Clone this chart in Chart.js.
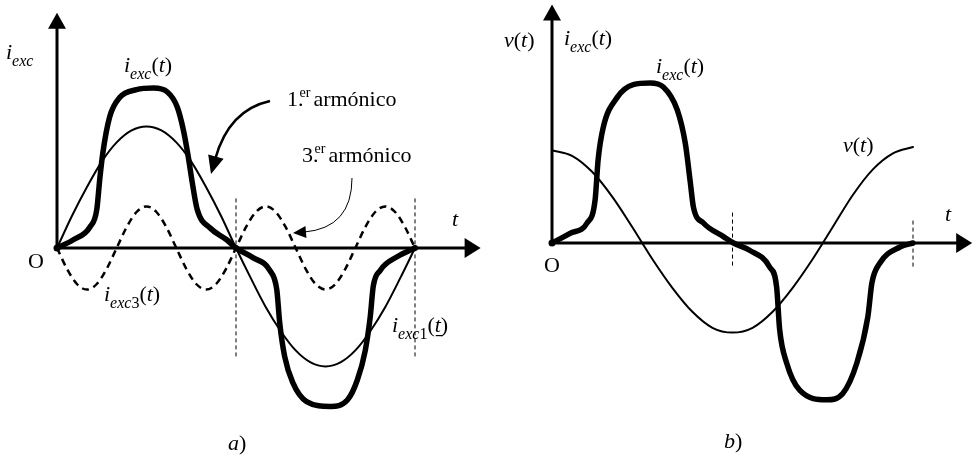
<!DOCTYPE html>
<html>
<head>
<meta charset="utf-8">
<script src="https://cdn.jsdelivr.net/npm/chart.js@4/dist/chart.umd.min.js"></script>
<style>
html,body{margin:0;padding:0;background:#fff;width:976px;height:458px;overflow:hidden;}
canvas{position:absolute;top:0;}
</style>
</head>
<body>
<canvas id="ca" width="490" height="458" style="left:0"></canvas>
<canvas id="cb" width="486" height="458" style="left:490px"></canvas>
<script>
// ---------- DATA (angle t in degrees over one period, amplitude normalised to i_exc peak) ----------
// Panel a)
const tA_exc   = [0,16,33,40,43,46,53,63,80,97,111,121,127,132,136,141,154,171,180,197,214,221,224,229,237,251,275,292,302,310,315,318,325,342,360];
const iA_exc   = [0,0.05,0.13,0.24,0.43,0.59,0.82,0.94,0.99,1.0,0.975,0.88,0.74,0.57,0.41,0.24,0.125,0.05,0,-0.06,-0.14,-0.26,-0.47,-0.68,-0.84,-0.96,-0.99,-0.95,-0.825,-0.64,-0.43,-0.24,-0.14,-0.055,0];
const tA_fund  = [0,15,30,45,60,75,90,105,120,135,150,165,180,195,210,225,240,255,270,285,300,315,330,345,360];
const iA_fund  = [0,0.20,0.38,0.54,0.66,0.735,0.76,0.735,0.66,0.54,0.38,0.20,0,-0.19,-0.37,-0.52,-0.64,-0.715,-0.74,-0.715,-0.64,-0.52,-0.37,-0.19,0];
const tA_third = [0,10,20,30,40,50,60,70,80,90,100,110,120,130,140,150,160,170,180,190,200,210,220,230,240,250,260,270,280,290,300,310,320,330,340,350,360];
const iA_third = [0,-0.13,-0.225,-0.26,-0.225,-0.13,0,0.13,0.225,0.26,0.225,0.13,0,-0.13,-0.225,-0.26,-0.225,-0.13,0,0.13,0.225,0.26,0.225,0.13,0,-0.13,-0.225,-0.26,-0.225,-0.13,0,0.13,0.225,0.26,0.225,0.13,0];
// Panel b)
const tB_exc = [0,18,35,43,46,51,65,81,98,111,125,133,138,141,151,171,181,197,217,224,227,234,247,274,290,304,315,319,327,347,360];
const iB_exc = [0,0.06,0.125,0.27,0.52,0.72,0.91,0.99,1.0,0.975,0.83,0.62,0.375,0.225,0.125,0.04,0,-0.045,-0.15,-0.275,-0.54,-0.75,-0.92,-0.98,-0.94,-0.75,-0.46,-0.25,-0.125,-0.025,0];
const tB_v   = [0,20,40,60,80,100,120,140,160,180,200,220,240,260,280,300,320,340,360];
const vB     = [0.58,0.545,0.445,0.29,0.10,-0.10,-0.28,-0.43,-0.53,-0.56,-0.53,-0.43,-0.28,-0.10,0.10,0.30,0.46,0.56,0.60];
// Half-period / period markers
const markers = [180, 360];

// ---------- helpers ----------
const FAM = '"Liberation Serif","Times New Roman",serif';
function pts(xs, ys){ return xs.map((x,i)=>({x:x, y:ys[i]})); }
function rich(ctx, x, y, parts){
  let cx = x;
  ctx.textAlign='left'; ctx.textBaseline='alphabetic'; ctx.fillStyle='#000';
  for (const [txt, st] of parts){
    let size=22, it=false, dy=0;
    if (st==='i') it=true;
    if (st==='si'){ it=true; size=16; dy=7; }
    if (st==='sr'){ size=16; dy=7; }
    if (st==='sup'){ size=14; dy=-9; }
    ctx.font = (it?'italic ':'') + size + 'px ' + FAM;
    ctx.fillText(txt, cx, y+dy);
    cx += ctx.measureText(txt).width;
  }
  return cx;
}
function head(ctx, tx, ty, fx, fy, len, hw){
  const a = Math.atan2(ty-fy, tx-fx);
  ctx.beginPath();
  ctx.moveTo(tx, ty);
  ctx.lineTo(tx - len*Math.cos(a) + hw*Math.sin(a), ty - len*Math.sin(a) - hw*Math.cos(a));
  ctx.lineTo(tx - len*Math.cos(a) - hw*Math.sin(a), ty - len*Math.sin(a) + hw*Math.cos(a));
  ctx.closePath(); ctx.fill();
}
function curvedArrow(ctx, sx, sy, cx, cy, ex, ey, lw, len, hw){
  const a = Math.atan2(ey-cy, ex-cx);
  const bx = ex - (len-2)*Math.cos(a), by = ey - (len-2)*Math.sin(a);
  ctx.save(); ctx.lineWidth=lw; ctx.strokeStyle='#000'; ctx.fillStyle='#000'; ctx.setLineDash([]);
  ctx.beginPath(); ctx.moveTo(sx,sy); ctx.quadraticCurveTo(cx,cy,bx,by); ctx.stroke();
  head(ctx, ex, ey, cx, cy, len, hw);
  ctx.restore();
}
function axesAndMarks(chart, yTip, xTip, vLines){
  const ctx=chart.ctx, xs=chart.scales.x, ys=chart.scales.y;
  const x0=xs.getPixelForValue(0), y0=ys.getPixelForValue(0);
  ctx.save();
  ctx.strokeStyle='#000'; ctx.fillStyle='#000'; ctx.lineWidth=3; ctx.setLineDash([]);
  const yt=ys.getPixelForValue(yTip), xt=xs.getPixelForValue(xTip);
  ctx.beginPath(); ctx.moveTo(x0, y0); ctx.lineTo(x0, yt+12); ctx.stroke();
  head(ctx, x0, yt, x0, y0, 16, 9);
  ctx.beginPath(); ctx.moveTo(x0, y0); ctx.lineTo(xt-12, y0); ctx.stroke();
  head(ctx, xt, y0, x0, y0, 16, 10);
  ctx.lineWidth=1; ctx.setLineDash([4,3]);
  for (const v of vLines){
    const px=xs.getPixelForValue(v.t);
    ctx.beginPath(); ctx.moveTo(px, ys.getPixelForValue(v.top)); ctx.lineTo(px, ys.getPixelForValue(v.bot)); ctx.stroke();
  }
  ctx.setLineDash([]);
  ctx.beginPath(); ctx.arc(x0, y0, 3.5, 0, Math.PI*2); ctx.fill();
  ctx.restore();
}
function baseOptions(padding){
  return {
    responsive:false, animation:false, devicePixelRatio:1,
    layout:{padding:padding},
    plugins:{legend:{display:false}, tooltip:{enabled:false}},
    elements:{point:{radius:0}, line:{cubicInterpolationMode:'monotone', borderCapStyle:'round', borderJoinStyle:'round'}},
    scales:{
      x:{type:'linear', min:0, max:360, display:false},
      y:{type:'linear', min:-1.0, max:1.5, display:false}
    }
  };
}

// ---------- Panel a ----------
const plugA = {
  id:'pa',
  beforeDatasetsDraw(chart){
    axesAndMarks(chart, 1.47, 426, [{t:markers[0], top:0.31, bot:-0.69},{t:markers[1], top:0.31, bot:-0.69}]);
  },
  afterDraw(chart){
    const ctx=chart.ctx, xs=chart.scales.x, ys=chart.scales.y;
    ctx.save(); ctx.fillStyle='#000';
    for (const t of markers){ ctx.beginPath(); ctx.arc(xs.getPixelForValue(t), ys.getPixelForValue(0), 3, 0, Math.PI*2); ctx.fill(); }
    rich(ctx, 6, 59, [['i','i'],['exc','si']]);
    rich(ctx, 124, 72, [['i','i'],['exc','si'],['(','r'],['t','i'],[')','r']]);
    let e = rich(ctx, 287, 106, [['1.','r']]);
    e = rich(ctx, e-4, 106, [['er','sup']]);
    rich(ctx, e+3, 106, [['armónico','r']]);
    e = rich(ctx, 302, 162, [['3.','r']]);
    e = rich(ctx, e-4, 162, [['er','sup']]);
    rich(ctx, e+3, 162, [['armónico','r']]);
    rich(ctx, 452, 226, [['t','i']]);
    rich(ctx, 28, 268, [['O','r']]);
    rich(ctx, 104, 301, [['i','i'],['exc','si'],['3','sr'],['(','r'],['t','i'],[')','r']]);
    const ue = rich(ctx, 392, 332, [['i','i'],['exc','si'],['1','sr'],['(','r']]);
    rich(ctx, ue, 332, [['t','i'],[')','r']]);
    ctx.fillRect(ue+1, 335, 7, 1.2);
    rich(ctx, 228, 450, [['a','i'],[')','r']]);
    curvedArrow(ctx, 270, 101, 229, 110, 211, 174, 2.5, 18, 8);
    curvedArrow(ctx, 352, 178, 352, 228, 293, 233, 1, 13, 6);
    ctx.restore();
  }
};
new Chart(document.getElementById('ca'), {
  type:'line',
  data:{datasets:[
    {label:'i_exc(t)', data:pts(tA_exc, iA_exc), borderColor:'#000', borderWidth:5.5, clip:false},
    {label:'i_exc1(t)', data:pts(tA_fund, iA_fund), borderColor:'#000', borderWidth:2, clip:false},
    {label:'i_exc3(t)', data:pts(tA_third, iA_third), borderColor:'#000', borderWidth:2.5, borderDash:[7,5], borderCapStyle:'butt', clip:false}
  ]},
  options:baseOptions({left:57, right:75, top:8, bottom:50}),
  plugins:[plugA]
});

// ---------- Panel b ----------
const plugB = {
  id:'pb',
  beforeDatasetsDraw(chart){
    axesAndMarks(chart, 1.49, 419, [{t:markers[0], top:0.19, bot:-0.15},{t:markers[1], top:0.14, bot:-0.15}]);
  },
  afterDraw(chart){
    const ctx=chart.ctx;
    ctx.save(); ctx.fillStyle='#000';
    rich(ctx, 14, 47, [['v','i'],['(','r'],['t','i'],[')','r']]);
    rich(ctx, 74, 45, [['i','i'],['exc','si'],['(','r'],['t','i'],[')','r']]);
    rich(ctx, 166, 73, [['i','i'],['exc','si'],['(','r'],['t','i'],[')','r']]);
    rich(ctx, 353, 152, [['v','i'],['(','r'],['t','i'],[')','r']]);
    rich(ctx, 455, 221, [['t','i']]);
    rich(ctx, 54, 272, [['O','r']]);
    rich(ctx, 234, 448, [['b','i'],[')','r']]);
    ctx.restore();
  }
};
new Chart(document.getElementById('cb'), {
  type:'line',
  data:{datasets:[
    {label:'i_exc(t)', data:pts(tB_exc, iB_exc), borderColor:'#000', borderWidth:5.5, clip:false},
    {label:'v(t)', data:pts(tB_v, vB), borderColor:'#000', borderWidth:2, clip:false}
  ]},
  options:baseOptions({left:62, right:63, top:3, bottom:55}),
  plugins:[plugB]
});
</script>
</body>
</html>
